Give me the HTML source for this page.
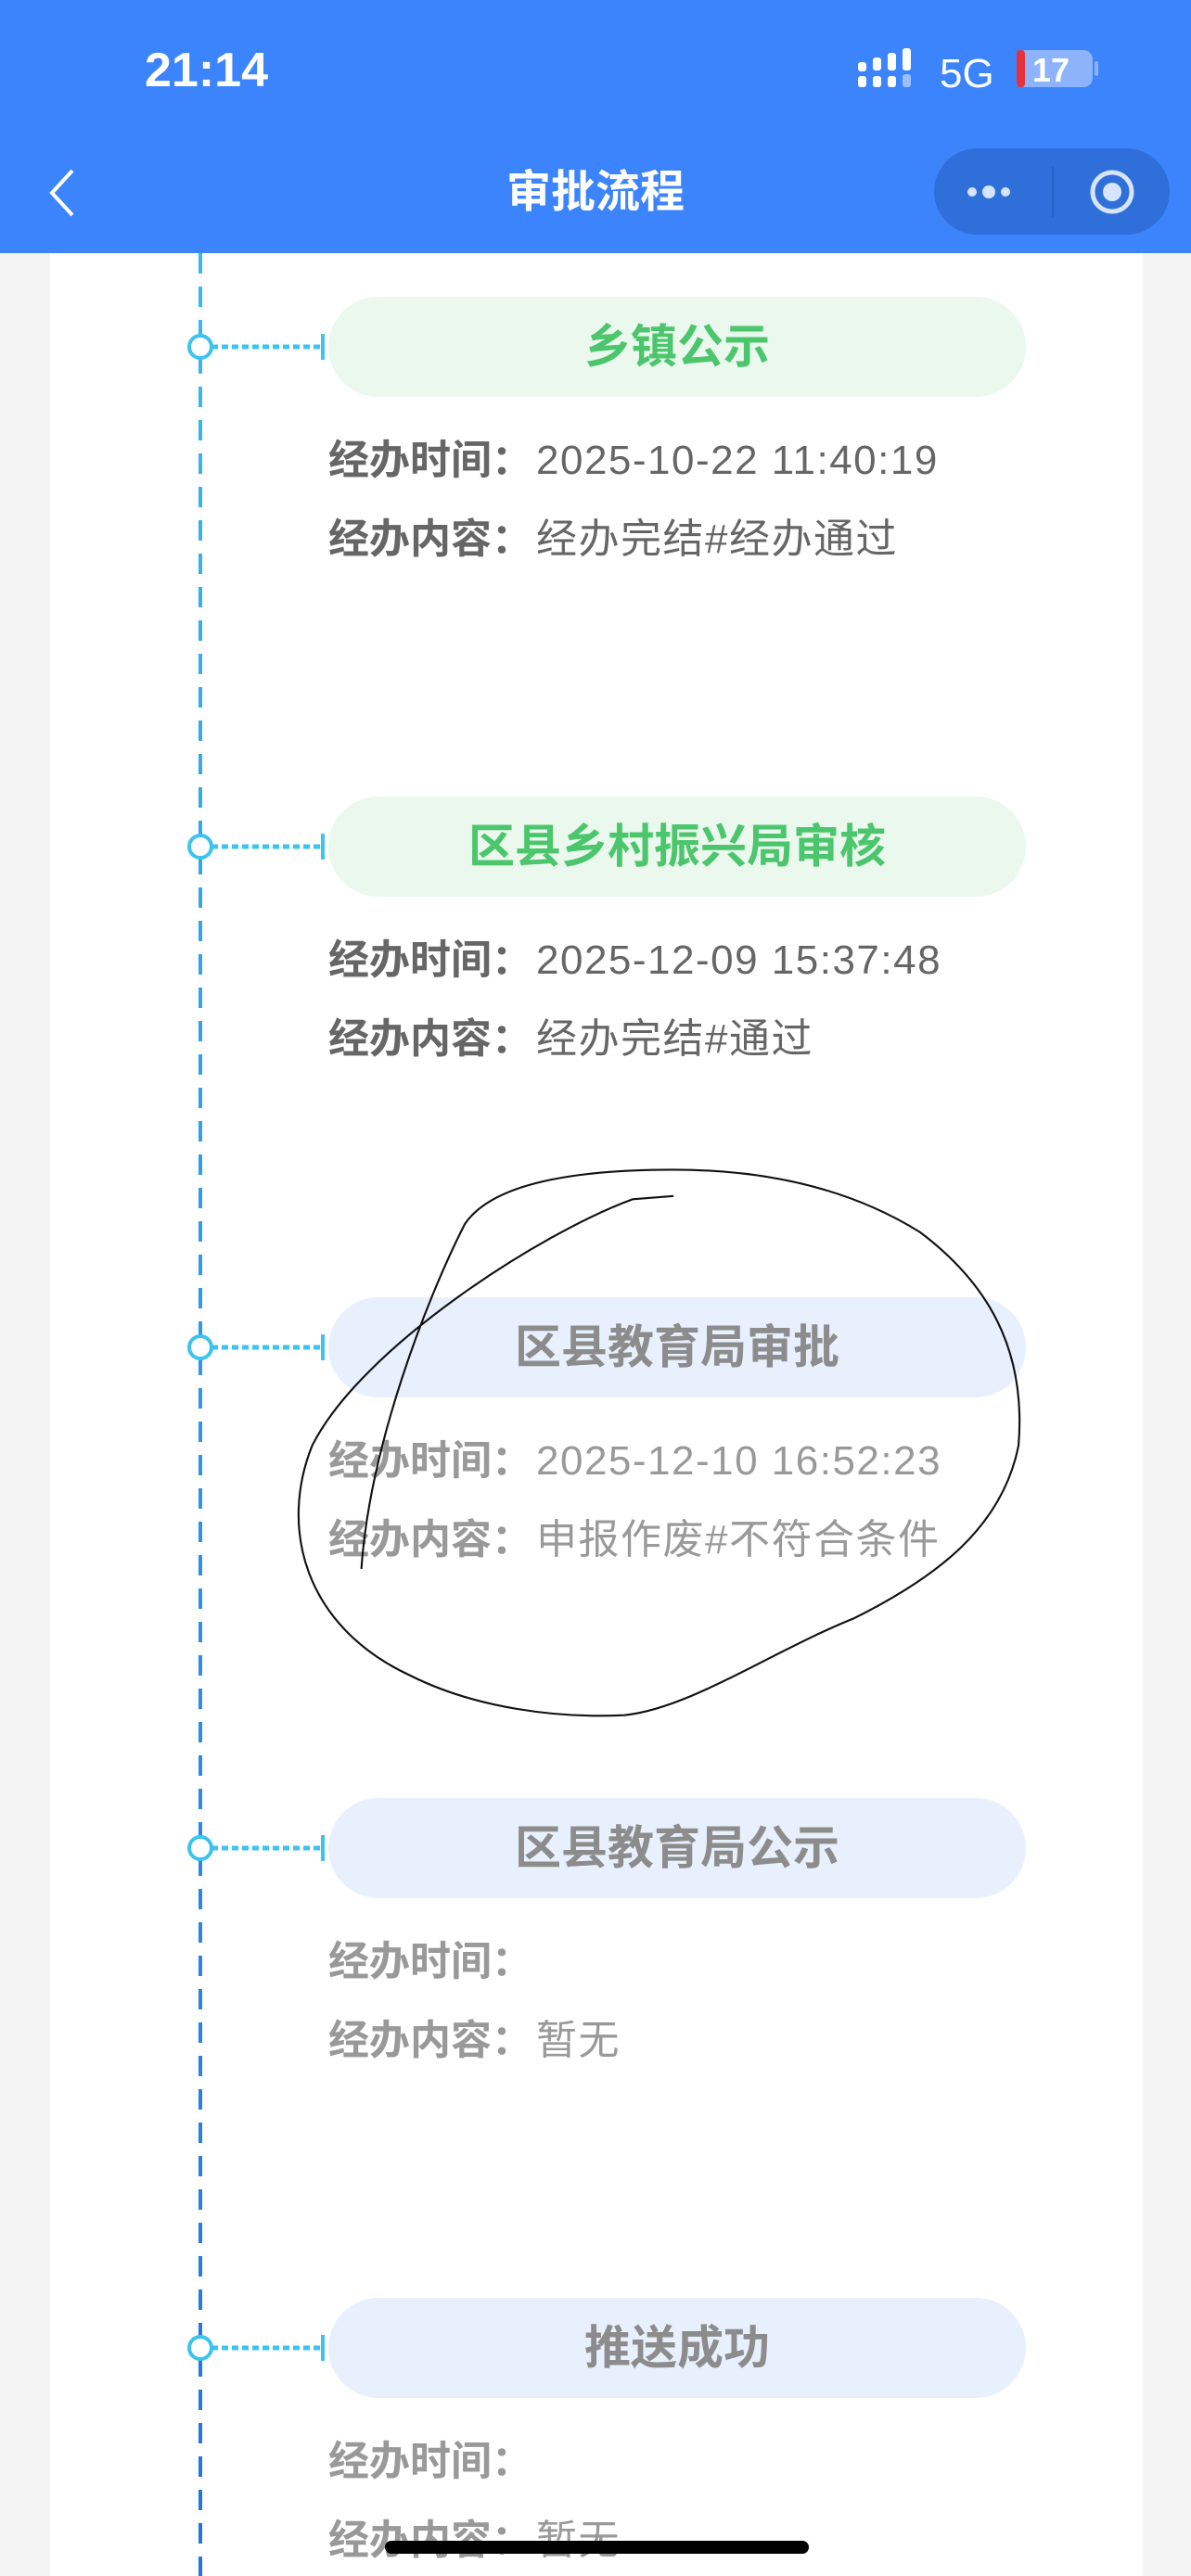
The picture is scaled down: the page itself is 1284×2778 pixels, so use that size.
<!DOCTYPE html>
<html><head><meta charset="utf-8"><style>
*{margin:0;padding:0;box-sizing:border-box}
body{width:1284px;height:2778px;position:relative;overflow:hidden;background:#f4f4f4;font-family:"Liberation Sans","Noto Sans CJK SC",sans-serif}
.hdr{position:absolute;left:0;top:0;width:1284px;height:273px;background:#3b84fc}
.card{position:absolute;left:54px;top:273px;width:1178px;height:2505px;background:#fff}
.abs{position:absolute;white-space:nowrap}
.pill{position:absolute;left:354px;width:752px;height:108px;border-radius:54px;text-align:center;line-height:108px;font-size:50px;font-weight:bold}
.g{background:#ebf8ee;color:#4cc66c}
.b{background:#e8f0fd;color:#8c8c8c}
.row{position:absolute;left:354px;font-size:44px;line-height:50px}
.row b{font-weight:bold;display:inline-block;width:224px}
.row span{letter-spacing:1.5px}
.dk{color:#666}
.lt{color:#999}
</style></head><body>
<div class="hdr"></div>
<div class="abs" style="left:156px;top:46px;font-size:52px;font-weight:bold;color:#fff">21:14</div>
<svg class="abs" style="left:920px;top:50px" width="270" height="60">
<g fill="#fff"><rect x="5" y="17" width="9" height="10" rx="3"/><rect x="5" y="32" width="9" height="12" rx="3"/><rect x="21" y="12" width="9" height="14" rx="3"/><rect x="21" y="32" width="9" height="12" rx="3"/><rect x="37" y="7" width="9" height="19" rx="3"/><rect x="37" y="32" width="9" height="12" rx="3"/><rect x="53" y="2" width="9" height="24" rx="3"/><rect x="53" y="30" width="9" height="14" rx="3" fill="#9cc0fb"/></g>
<text x="93" y="44" font-size="44" fill="#fff" font-family="Liberation Sans">5G</text>
<rect x="176" y="4" width="82" height="40" rx="10" fill="#8db4fb"/><rect x="176" y="4" width="9" height="40" rx="4" fill="#e8303a"/>
<text x="193" y="38" font-size="36" font-weight="bold" fill="#fff" font-family="Liberation Sans">17</text>
<rect x="260" y="16" width="4" height="16" rx="2" fill="#8db4fb"/>
</svg>
<svg class="abs" style="left:48px;top:180px" width="40" height="56"><path d="M30 4 L8 28 L30 52" fill="none" stroke="#fff" stroke-width="4"/></svg>
<div class="abs" style="left:0;width:1284px;top:178px;text-align:center;font-size:48px;font-weight:bold;color:#fff;line-height:60px">审批流程</div>
<div class="abs" style="left:1007px;top:160px;width:254px;height:93px;border-radius:47px;background:#2f6fd9"></div>
<div class="abs" style="left:1134px;top:180px;width:2px;height:54px;background:#2563c8"></div>
<svg class="abs" style="left:1040px;top:190px" width="60" height="34"><circle cx="8" cy="17" r="5" fill="#d6e4fd"/><circle cx="26" cy="17" r="7" fill="#d6e4fd"/><circle cx="44" cy="17" r="5" fill="#d6e4fd"/></svg>
<svg class="abs" style="left:1170px;top:181px" width="58" height="52"><circle cx="29" cy="26" r="21" fill="none" stroke="#d6e4fd" stroke-width="5"/><circle cx="29" cy="26" r="10" fill="#d6e4fd"/></svg>
<div class="card"></div>
<svg class="abs" style="left:0;top:273px" width="400" height="2505">
<defs><linearGradient id="lg" gradientUnits="userSpaceOnUse" x1="0" y1="0" x2="0" y2="2505"><stop offset="0" stop-color="#3db8ee"/><stop offset="1" stop-color="#2473e0"/></linearGradient></defs>
<rect x="214" y="0" width="4" height="2505" fill="url(#lg)" style="display:none"/>
<line x1="216" y1="0" x2="216" y2="2505" stroke="url(#lg)" stroke-width="4" stroke-dasharray="22 14"/>
<g stroke="#3cc4ef" fill="#fff">
<g transform="translate(0,101)"><line x1="228" y1="0" x2="346" y2="0" stroke-width="5" stroke-dasharray="7 4"/><line x1="348" y1="-14" x2="348" y2="14" stroke-width="4"/><circle cx="216" cy="0" r="12" stroke-width="4"/></g>
<g transform="translate(0,640)"><line x1="228" y1="0" x2="346" y2="0" stroke-width="5" stroke-dasharray="7 4"/><line x1="348" y1="-14" x2="348" y2="14" stroke-width="4"/><circle cx="216" cy="0" r="12" stroke-width="4"/></g>
<g transform="translate(0,1180)"><line x1="228" y1="0" x2="346" y2="0" stroke-width="5" stroke-dasharray="7 4"/><line x1="348" y1="-14" x2="348" y2="14" stroke-width="4"/><circle cx="216" cy="0" r="12" stroke-width="4"/></g>
<g transform="translate(0,1720)"><line x1="228" y1="0" x2="346" y2="0" stroke-width="5" stroke-dasharray="7 4"/><line x1="348" y1="-14" x2="348" y2="14" stroke-width="4"/><circle cx="216" cy="0" r="12" stroke-width="4"/></g>
<g transform="translate(0,2259)"><line x1="228" y1="0" x2="346" y2="0" stroke-width="5" stroke-dasharray="7 4"/><line x1="348" y1="-14" x2="348" y2="14" stroke-width="4"/><circle cx="216" cy="0" r="12" stroke-width="4"/></g>
</g></svg>

<div class="pill g" style="top:320px">乡镇公示</div>
<div class="row dk" style="top:472px"><b>经办时间：</b><span>2025-10-22 11:40:19</span></div>
<div class="row dk" style="top:557px"><b>经办内容：</b><span>经办完结#经办通过</span></div>

<div class="pill g" style="top:859px">区县乡村振兴局审核</div>
<div class="row dk" style="top:1011px"><b>经办时间：</b><span>2025-12-09 15:37:48</span></div>
<div class="row dk" style="top:1096px"><b>经办内容：</b><span>经办完结#通过</span></div>

<div class="pill b" style="top:1399px">区县教育局审批</div>
<div class="row lt" style="top:1551px"><b>经办时间：</b><span>2025-12-10 16:52:23</span></div>
<div class="row lt" style="top:1636px"><b>经办内容：</b><span>申报作废#不符合条件</span></div>

<div class="pill b" style="top:1939px">区县教育局公示</div>
<div class="row lt" style="top:2091px"><b>经办时间：</b></div>
<div class="row lt" style="top:2176px"><b>经办内容：</b><span>暂无</span></div>

<div class="pill b" style="top:2478px">推送成功</div>
<div class="row lt" style="top:2630px"><b>经办时间：</b></div>
<div class="row lt" style="top:2715px"><b>经办内容：</b><span>暂无</span></div>

<svg class="abs" style="left:0;top:0" width="1284" height="2778" viewBox="0 0 725 1568" preserveAspectRatio="none">
<path d="M410,728 L385,730 C330,750 220,820 190,880 C170,930 185,990 250,1020 C290,1040 340,1046 380,1044 C420,1040 470,1005 520,985 C570,960 610,930 620,880 C625,820 600,780 560,750 C520,725 470,712 410,712 C350,712 300,720 283,745 C260,790 225,880 220,955" fill="none" stroke="#111" stroke-width="1.2"/>
</svg>
<div class="abs" style="left:415px;top:2740px;width:457px;height:14px;border-radius:7px;background:#000"></div>
</body></html>
